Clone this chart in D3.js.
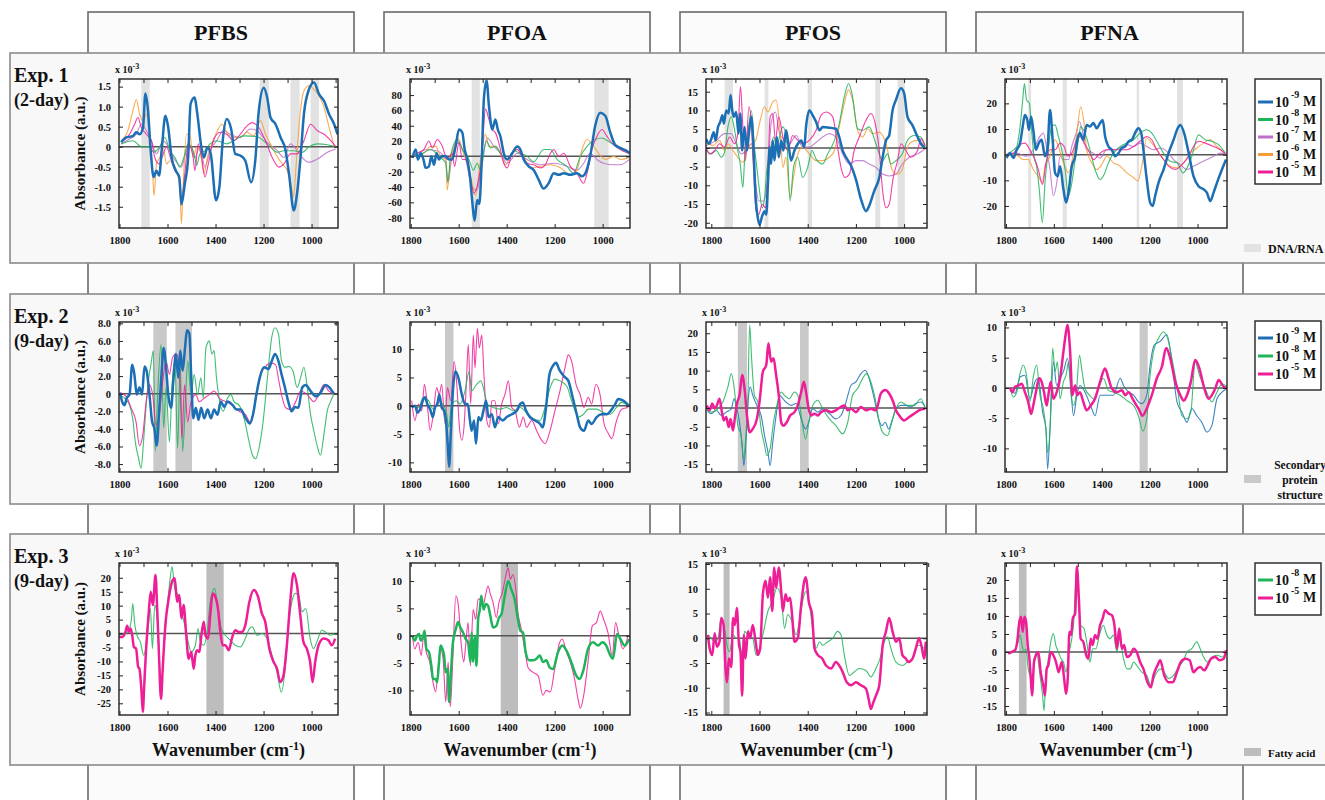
<!DOCTYPE html>
<html>
<head>
<meta charset="utf-8">
<script src="https://cdn.jsdelivr.net/npm/d3@7"></script>
<style>
body { margin: 0; background: #fff; }
text { font-family: "Liberation Serif", "Times New Roman", serif; font-weight: bold; fill: #111; }
</style>
</head>
<body>
<svg id="chart" width="1325" height="800"></svg>
<script>
// ---- names and ticks ----
var compounds = ["PFBS", "PFOA", "PFOS", "PFNA"];
var expNames = ["Exp. 1", "Exp. 2", "Exp. 3"];
var expDays = ["(2-day)", "(9-day)", "(9-day)"];
var concExp = {n9: "-9", n8: "-8", n7: "-7", n6: "-6", n5: "-5"};
var legendConcs = [["n9", "n8", "n7", "n6", "n5"], ["n9", "n8", "n5"], ["n8", "n5"]];
var bandNames = [["DNA/RNA"], ["Secondary", "protein", "structure"], ["Fatty acid"]];
var xTicks = [1800, 1600, 1400, 1200, 1000];
var xMinor = [1800, 1700, 1600, 1500, 1400, 1300, 1200, 1100, 1000, 900];
var xRanges = [[1802, 890], [1803, 886], [1822, 905], [1804, 877]];
var yRanges = [
  [[-2.03, 1.69], [-93.5, 101], [-21.4, 18.4], [-28.6, 29.5]],
  [[-8.9, 8.15], [-11.7, 14.8], [-17.1, 23], [-13.9, 10.9]],
  [[-29.2, 25.3], [-14.5, 13.3], [-15.5, 15.2], [-17.5, 24.7]]
];
var yTicks = [
  [[-1.5, -1, -0.5, 0, 0.5, 1, 1.5], [-80, -60, -40, -20, 0, 20, 40, 60, 80], [-20, -15, -10, -5, 0, 5, 10, 15], [-20, -10, 0, 10, 20]],
  [[-8, -6, -4, -2, 0, 2, 4, 6, 8], [-10, -5, 0, 5, 10], [-15, -10, -5, 0, 5, 10, 15, 20], [-10, -5, 0, 5, 10]],
  [[-25, -20, -15, -10, -5, 0, 5, 10, 15, 20], [-10, -5, 0, 5, 10], [-15, -10, -5, 0, 5, 10, 15], [-15, -10, -5, 0, 5, 10, 15, 20]]
];
var tickDecimals = [[1, 0, 0, 0], [1, 0, 0, 0], [0, 0, 0, 0]];

// shaded wavenumber regions [from, to]
var bands = [
  [[[1709, 1674], [1216, 1178], [1088, 1050], [1004, 969]], [[1546, 1512], [1035, 975]],
   [[1745, 1710], [1579, 1563], [1400, 1382], [1120, 1099], [1027, 997]],
   [[1707, 1695], [1563, 1546], [1254, 1244], [1086, 1061]]],
  [[[1659, 1603], [1567, 1498]], [[1657, 1622]], [[1690, 1652], [1432, 1396]], [[1242, 1208]]],
  [[[1438, 1366]], [[1425, 1353]], [[1749, 1724]], [[1746, 1714]]]
];

// ---- Exp. 1 spectra (x 10^-3) ----
var e1_pfbs_n9 = [[1793,0.11],[1772,0.23],[1744,0.27],[1730,0.36],[1716,0.31],[1702,0.48],[1692,1.33],[1681,0.89],[1671,-0.02],[1658,-0.76],[1646,-0.6],[1635,-0.72],[1623,0],[1609,0.77],[1597,0.48],[1583,-0.27],[1565,-0.6],[1551,-0.76],[1542,-1.44],[1528,-0.93],[1514,-0.27],[1504,1.06],[1488,1.23],[1474,0.73],[1461,0.07],[1448,-0.27],[1434,-0.02],[1420,-0.18],[1398,-1.34],[1384,-1.01],[1370,0.15],[1353,0.69],[1335,0.44],[1318,-0.18],[1297,-0.22],[1276,-0.35],[1252,-0.89],[1234,-0.31],[1220,0.89],[1199,1.47],[1185,1.23],[1171,0.73],[1150,0.56],[1129,0.23],[1108,-0.1],[1094,-0.68],[1074,-1.59],[1060,-1.14],[1046,-0.27],[1032,0.81],[1011,1.43],[990,1.6],[969,1.31],[948,1.14],[927,0.81],[906,0.56],[892,0.31]];
var e1_pfbs_n8 = [[1793,0.07],[1744,0.15],[1709,0],[1674,0],[1658,-0.14],[1632,0],[1611,0.23],[1590,-0.1],[1569,-0.27],[1549,-0.51],[1532,-0.27],[1514,0.07],[1486,-0.27],[1479,-0.47],[1465,-0.18],[1444,-0.1],[1423,0.07],[1395,0.15],[1353,0.07],[1325,0.15],[1283,0.27],[1227,0.25],[1185,0.07],[1143,-0.14],[1115,-0.1],[1074,-0.1],[1039,-0.14],[1011,0],[976,0.07],[934,0.05],[899,0]];
var e1_pfbs_n7 = [[1793,0.07],[1758,0.19],[1730,0.31],[1709,0.56],[1688,0.4],[1667,0.15],[1646,-0.18],[1618,0.15],[1597,0],[1576,-0.27],[1556,-0.43],[1542,-0.51],[1521,-0.1],[1500,0],[1486,-0.27],[1465,0],[1444,-0.51],[1423,-0.1],[1395,0.15],[1367,0.4],[1339,0.31],[1297,0.23],[1255,0.44],[1227,0.4],[1185,0.11],[1143,-0.1],[1115,-0.27],[1088,0.07],[1060,-0.1],[1039,-0.27],[1011,-0.39],[976,-0.31],[934,-0.14],[899,-0.06]];
var e1_pfbs_n6 = [[1793,0.15],[1765,0.4],[1744,0.9],[1730,1.18],[1716,0.81],[1702,0.65],[1688,0.81],[1674,0.31],[1663,-0.51],[1656,-1.22],[1646,-0.43],[1632,-0.27],[1618,-0.02],[1604,-0.43],[1590,-0.35],[1569,-0.51],[1549,-1.01],[1542,-1.92],[1535,-1.01],[1521,0.31],[1507,0.31],[1493,-0.27],[1479,-0.02],[1465,-0.1],[1448,-0.68],[1434,-0.27],[1416,0.07],[1395,0.36],[1374,0.56],[1353,0.36],[1325,0.23],[1297,0.23],[1269,0.36],[1241,0.27],[1213,0.65],[1192,0.31],[1171,0.07],[1150,-0.18],[1122,-0.43],[1101,-0.6],[1081,-1.09],[1076,-1.26],[1062,-0.27],[1048,0.81],[1032,1.39],[1011,1.52],[990,1.43],[969,1.27],[948,0.98],[927,0.48],[906,0]];
var e1_pfbs_n5 = [[1793,0.11],[1758,0.31],[1737,0.56],[1723,0.73],[1709,0.48],[1688,0.31],[1667,0.15],[1653,-0.27],[1635,-0.43],[1623,-0.27],[1604,0],[1588,-0.27],[1569,-0.6],[1551,-0.76],[1542,-1.34],[1528,-0.68],[1514,0.07],[1493,-0.27],[1486,-0.6],[1472,0.07],[1458,-0.27],[1444,-0.76],[1430,-0.43],[1409,0.15],[1381,0.36],[1353,0.31],[1325,0.15],[1297,0.31],[1269,0.52],[1248,0.6],[1220,0.48],[1192,0.15],[1164,-0.27],[1136,-0.51],[1115,-0.43],[1088,-0.18],[1060,-0.18],[1032,0.15],[1004,0.56],[976,0.4],[948,0.31],[920,0.15],[899,0]];

var e1_pfoa_n9 = [[1793,-2],[1779,9],[1770,-4],[1758,4],[1747,-4],[1738,-15],[1724,-13],[1714,0],[1703,-11],[1692,4],[1682,-4],[1672,0],[1654,0],[1641,-4],[1627,-4],[1613,13],[1599,35],[1585,31],[1575,9],[1564,-4],[1553,-26],[1544,-57],[1534,-84],[1523,-57],[1514,-62],[1505,-13],[1495,75],[1484,99],[1474,66],[1460,35],[1447,48],[1437,35],[1426,26],[1412,4],[1398,-4],[1377,4],[1356,13],[1343,9],[1329,-4],[1308,-13],[1287,-18],[1266,-31],[1246,-42],[1225,-35],[1204,-22],[1183,-24],[1162,-22],[1135,-24],[1107,-22],[1086,-26],[1072,-22],[1052,0],[1031,40],[1010,57],[989,53],[968,31],[948,15],[927,11],[899,7],[888,4]];
var e1_pfoa_n8 = [[1793,0],[1751,4],[1717,9],[1682,0],[1654,-9],[1645,-33],[1634,0],[1606,22],[1585,9],[1557,-4],[1539,-18],[1523,-9],[1509,-18],[1484,20],[1467,11],[1447,13],[1426,4],[1398,-4],[1370,7],[1343,4],[1315,0],[1287,-7],[1246,9],[1218,9],[1190,-4],[1149,-13],[1121,-22],[1093,0],[1065,13],[1031,22],[1003,24],[968,18],[941,13],[913,7],[888,4]];
var e1_pfoa_n7 = [[1793,0],[1731,9],[1689,7],[1654,-4],[1645,-35],[1627,2],[1599,18],[1571,-4],[1544,-40],[1523,-44],[1502,-4],[1481,24],[1453,13],[1426,4],[1398,-9],[1356,4],[1315,-4],[1259,-11],[1204,-9],[1149,-13],[1107,-18],[1079,-9],[1052,4],[1024,-4],[996,-9],[954,-11],[927,-11],[888,-4]];
var e1_pfoa_n6 = [[1793,0],[1745,4],[1717,13],[1696,13],[1675,0],[1654,-4],[1648,-44],[1634,-4],[1620,13],[1603,24],[1585,9],[1564,-9],[1544,-35],[1530,-51],[1509,-4],[1488,29],[1474,13],[1447,13],[1426,4],[1405,-11],[1377,4],[1356,9],[1329,0],[1301,-15],[1259,-13],[1218,-11],[1176,-15],[1135,-24],[1107,-18],[1086,9],[1065,22],[1038,13],[1017,4],[989,-4],[954,0],[927,-4],[892,-2]];
var e1_pfoa_n5 = [[1793,0],[1772,4],[1745,9],[1724,20],[1710,11],[1689,22],[1668,13],[1648,-4],[1627,4],[1617,-13],[1599,18],[1585,-4],[1571,-4],[1557,-18],[1537,-48],[1520,-35],[1505,-4],[1488,62],[1474,48],[1460,35],[1447,31],[1433,18],[1412,-9],[1398,-15],[1377,4],[1356,9],[1336,0],[1315,-9],[1287,-11],[1259,-15],[1239,-11],[1218,4],[1204,9],[1183,0],[1162,4],[1135,-13],[1107,-22],[1079,-35],[1065,-22],[1045,9],[1024,26],[1003,35],[982,26],[954,15],[927,9],[892,4]];

var e1_pfos_n9 = [[1821,2.4],[1810,1.1],[1800,2.4],[1790,4.2],[1782,2],[1772,5.6],[1763,6.9],[1754,8.7],[1748,6.5],[1738,10],[1728,9.2],[1720,14.1],[1713,10],[1706,8.3],[1697,9.6],[1687,3.8],[1680,9.2],[1672,-0.7],[1662,5.6],[1652,-0.7],[1644,3.8],[1634,8.3],[1625,0.2],[1616,-13.3],[1607,-18.7],[1600,-20.5],[1589,-18.2],[1579,-16.9],[1572,-17.8],[1565,-9.7],[1558,0.2],[1552,-4.3],[1545,2],[1538,-3.4],[1528,2.9],[1520,-2.5],[1510,2],[1501,-0.7],[1490,4.7],[1480,1.1],[1469,-3.4],[1455,-0.7],[1441,1.1],[1427,2],[1414,0.2],[1407,5.6],[1393,10],[1379,8.7],[1365,6.9],[1351,4.7],[1338,5.6],[1310,5.4],[1283,5.1],[1269,2.9],[1255,-0.7],[1241,-2.5],[1220,-4.8],[1200,-8.4],[1179,-13.7],[1158,-16.9],[1145,-15.5],[1124,-11.5],[1103,-7.9],[1089,-2.5],[1075,2],[1062,3.3],[1048,10],[1034,12.8],[1013,15.9],[1000,14.6],[986,8.3],[965,6],[944,2.9],[924,0.6],[913,0.2]];
var e1_pfos_n8 = [[1821,-0.7],[1800,-1.6],[1779,-0.7],[1759,-2.5],[1745,-1.2],[1731,5.6],[1717,8.3],[1703,4.7],[1690,-0.7],[1680,-4.3],[1669,-10.6],[1662,-3.4],[1648,3.8],[1634,10],[1621,0.2],[1611,-5.2],[1600,-11.5],[1589,-16],[1579,-13.3],[1570,-6.1],[1558,-1.6],[1542,2.9],[1528,0.2],[1517,2.9],[1503,5.6],[1487,2],[1473,-14.2],[1459,-5.2],[1441,-2.5],[1421,-7.9],[1400,-5.2],[1382,-0.7],[1365,-3],[1338,-4.3],[1317,-1.6],[1289,2],[1269,6.5],[1248,13.7],[1230,17.2],[1214,13.7],[1193,5.1],[1172,4.7],[1145,5.6],[1117,1.1],[1089,-3.4],[1069,-1.6],[1055,-4.3],[1034,-3.4],[1007,-1.6],[986,2],[958,3.3],[931,2.9],[913,0.6]];
var e1_pfos_n7 = [[1821,0.6],[1779,2],[1745,3.8],[1717,3.8],[1697,1.1],[1676,-1.6],[1655,-0.7],[1634,1.1],[1616,-9.7],[1603,-14.2],[1583,-14.2],[1565,-7],[1552,6.5],[1534,9.6],[1517,3.8],[1496,2],[1476,1.1],[1448,3.3],[1421,0.2],[1393,0.2],[1365,1.5],[1338,2.9],[1310,3.8],[1283,2.9],[1255,-1.6],[1227,-4.3],[1200,-3.4],[1172,-3.4],[1145,-4.3],[1117,-5.2],[1089,-7],[1062,-7.5],[1034,-7],[1007,-4.3],[979,-2.5],[944,-1.6],[913,-0.3]];
var e1_pfos_n6 = [[1821,2],[1793,0.6],[1766,2],[1745,-0.7],[1731,1.1],[1710,-0.7],[1690,-2.5],[1669,-3.9],[1652,-0.7],[1634,1.1],[1616,2],[1600,6.5],[1579,11],[1565,9.6],[1545,12.3],[1531,12.8],[1514,3.8],[1503,-5.2],[1490,-2.5],[1473,-13.3],[1459,-7.9],[1441,-1.6],[1421,0.2],[1393,-1.6],[1365,-3.4],[1338,-3.4],[1310,-2.5],[1289,-0.7],[1269,5.6],[1248,11.9],[1231,15.5],[1214,12.8],[1193,4.7],[1172,2.9],[1151,5.1],[1131,3.8],[1103,4.2],[1075,1.1],[1048,-6.1],[1027,-7],[1007,-5.7],[990,-0.7],[972,1.5],[944,2],[913,0.2]];
var e1_pfos_n5 = [[1821,0.2],[1807,-1.6],[1786,-0.7],[1766,1.1],[1745,0.2],[1724,2.9],[1703,1.1],[1690,3.8],[1679,16.4],[1669,5.6],[1658,-3.4],[1644,11],[1634,6.5],[1625,-5.2],[1614,-16.9],[1603,-17.8],[1589,-15.1],[1575,-16],[1565,-6.1],[1556,8.3],[1545,9.2],[1534,2],[1520,8.3],[1503,2.9],[1483,-0.7],[1462,3.3],[1441,2],[1421,1.1],[1393,2],[1365,4.7],[1345,8.7],[1324,9.6],[1296,8.3],[1276,0.2],[1262,-5.2],[1245,-7.9],[1227,-7],[1207,-0.7],[1186,2.9],[1158,7.4],[1138,9.2],[1117,5.6],[1103,-0.7],[1089,-11.5],[1075,-16],[1062,-15.1],[1045,-7.9],[1027,-3.4],[1013,1.1],[993,-0.7],[972,-2.5],[944,-0.7],[931,2.4],[913,0.6]];

var e1_pfna_n9 = [[1797,-1.3],[1783,0.6],[1769,-1.3],[1755,1.9],[1741,4.5],[1730,11],[1721,15.5],[1711,13.5],[1704,9.7],[1695,14.8],[1686,9.7],[1675,1.9],[1663,4.5],[1651,5.8],[1637,-0.6],[1627,1.9],[1616,17.4],[1605,5.8],[1595,-7.1],[1584,-8.4],[1574,-4.5],[1560,-13.5],[1549,-18.7],[1539,-14.8],[1525,-4.5],[1511,-0.6],[1502,5.8],[1491,8.4],[1477,5.8],[1463,11.6],[1449,11],[1435,12.3],[1421,10.3],[1407,12.3],[1396,13.5],[1386,7.1],[1372,3.2],[1358,1.9],[1344,-0.6],[1330,0.6],[1316,2.6],[1302,3.2],[1288,5.2],[1274,5.8],[1261,8.4],[1247,10.3],[1235,8.4],[1226,1.9],[1212,-9.7],[1198,-18.7],[1187,-20],[1177,-16.1],[1163,-11],[1142,-5.8],[1121,0.6],[1100,5.8],[1083,10.3],[1072,11.6],[1056,8.4],[1037,0.6],[1017,-8.4],[996,-12.3],[975,-13.5],[961,-14.8],[947,-18.1],[933,-14.8],[919,-11],[898,-5.8],[881,-1.9]];
var e1_pfna_n8 = [[1797,0],[1776,1.3],[1755,3.2],[1741,11],[1730,21.3],[1723,27.7],[1714,21.3],[1702,20],[1693,9.7],[1683,-0.6],[1672,-4.5],[1661,-13.5],[1648,-26.5],[1637,-11],[1623,1.9],[1609,11],[1595,11.6],[1581,7.1],[1567,1.9],[1553,-5.8],[1539,-16.1],[1525,-11],[1511,-1.9],[1497,5.8],[1488,11],[1470,8.4],[1449,1.9],[1428,-5.8],[1407,-9.7],[1390,-7.7],[1372,-3.2],[1351,0.6],[1323,3.2],[1295,4.5],[1267,5.8],[1240,8.4],[1212,9.7],[1191,8.4],[1170,5.2],[1142,0.6],[1114,-2.6],[1086,-3.2],[1061,-7.1],[1044,-5.2],[1024,-0.6],[996,7.7],[968,5.8],[940,5.2],[912,3.9],[884,0.6]];
var e1_pfna_n7 = [[1797,0],[1755,0.6],[1714,-0.6],[1686,1.9],[1658,7.1],[1644,8.4],[1627,0.6],[1616,-5.8],[1602,-16.1],[1588,-11],[1574,-0.6],[1560,-1.9],[1539,-1.9],[1525,3.2],[1507,8.4],[1493,12.9],[1479,8.4],[1463,1.9],[1435,0.6],[1407,-1.3],[1379,1.9],[1351,1.9],[1323,2.6],[1295,3.9],[1267,3.2],[1240,4.5],[1212,3.2],[1184,1.9],[1156,2.6],[1128,1.3],[1100,-1.9],[1072,-3.9],[1044,-5.8],[1017,-4.5],[989,-3.2],[961,-1.9],[933,-0.6],[905,0.6],[884,0.4]];
var e1_pfna_n6 = [[1797,0],[1769,0],[1748,-0.6],[1728,-1.9],[1707,-1.9],[1686,-5.8],[1665,-8.4],[1648,-11],[1637,-4.5],[1616,-0.6],[1595,5.8],[1581,3.2],[1560,-3.2],[1539,-7.1],[1518,0.6],[1504,8.4],[1488,18.7],[1474,12.3],[1463,1.9],[1442,-3.2],[1421,-5.8],[1400,-3.9],[1379,-0.6],[1351,-3.2],[1323,-4.5],[1295,-7.1],[1267,-9],[1249,-10.3],[1233,-4.5],[1212,6.5],[1191,4.5],[1170,1.9],[1142,-1.9],[1114,-4.5],[1086,-5.2],[1058,-3.2],[1031,0.6],[1003,2.6],[975,4.5],[947,5.8],[919,3.2],[884,0.6]];
var e1_pfna_n5 = [[1797,0],[1769,0.6],[1741,3.9],[1721,4.5],[1700,1.9],[1679,-1.9],[1665,-5.8],[1647,-11.6],[1633,-3.2],[1616,1.9],[1595,1.9],[1574,4.5],[1557,3.2],[1543,-0.6],[1525,0.6],[1504,5.8],[1491,7.1],[1474,4.5],[1456,1.9],[1435,-1.9],[1407,0.6],[1379,1.9],[1351,1.9],[1323,1.9],[1295,1.9],[1267,3.2],[1233,5.8],[1212,7.1],[1191,5.8],[1170,1.9],[1142,-1.9],[1121,-4.5],[1093,-5.8],[1065,-3.9],[1037,-0.6],[1017,3.2],[996,5.2],[968,4.5],[933,3.2],[905,1.9],[884,0.4]];

// ---- Exp. 2 spectra ----
var e2_pfbs_n9 = [[1797,0.1],[1789,-0.9],[1779,-1.3],[1770,-0.5],[1758,-0.1],[1747,3.3],[1738,2.2],[1728,-0.1],[1717,0.7],[1706,-0.1],[1696,3.1],[1687,2.6],[1675,-0.1],[1664,-3.2],[1655,-3.9],[1645,-5.9],[1634,-1.6],[1624,2.6],[1616,5.2],[1606,3],[1597,-0.1],[1585,-1.6],[1576,1.4],[1565,4.5],[1555,1.8],[1547,4.9],[1537,2.6],[1527,5.2],[1519,7.2],[1509,6.8],[1501,1.8],[1493,-2.8],[1482,-1.6],[1471,-3],[1460,-1.6],[1447,-2.8],[1433,-1.8],[1419,-2.8],[1406,-1.8],[1392,-2.4],[1378,-0.9],[1364,-1.5],[1350,-0.9],[1329,-1.3],[1313,-1.8],[1295,-1.8],[1274,-2.8],[1257,-3.4],[1244,-2.4],[1230,-0.1],[1216,1.8],[1198,3],[1180,2.8],[1166,3.7],[1152,4.5],[1138,3.7],[1125,2.2],[1111,0.7],[1097,-0.9],[1083,-2],[1069,-1.5],[1055,-1.6],[1039,0.7],[1025,1],[1004,0.3],[983,-0.3],[963,0.1],[942,1],[925,0.7],[907,0]];
var e2_pfbs_n8 = [[1797,-0.1],[1779,-0.5],[1758,-1.3],[1745,-2.8],[1734,-5.5],[1720,-7.4],[1710,-8.5],[1700,-5.5],[1689,-1.3],[1678,1.8],[1669,3.3],[1659,4.9],[1651,-6.5],[1641,-0.1],[1627,5.6],[1616,-3.9],[1606,0.7],[1592,-5.5],[1581,1],[1569,3.7],[1558,-6.2],[1547,3.3],[1537,-6.6],[1526,-1.3],[1516,3.7],[1502,-0.1],[1489,2.2],[1475,-0.1],[1461,1.8],[1451,-0.5],[1440,5.2],[1426,6],[1415,4.5],[1406,4.9],[1396,1.8],[1385,-0.5],[1368,-2],[1350,-0.5],[1336,-0.1],[1323,-0.9],[1302,-1.3],[1281,-2.8],[1263,-5.1],[1246,-7],[1233,-7.4],[1219,-6.2],[1202,-3.2],[1184,1.8],[1166,6.4],[1152,7.5],[1138,6.8],[1125,3.7],[1111,3],[1094,3.1],[1078,2.6],[1060,0.7],[1046,1.8],[1032,3],[1018,0.7],[1004,-2.4],[990,-4.3],[977,-5.9],[963,-7],[949,-4.7],[935,-2],[921,-0.9],[907,0]];
var e2_pfbs_n5 = [[1797,0.1],[1772,-0.3],[1752,-1.6],[1731,-3.2],[1717,-5.9],[1703,-4.7],[1689,-0.9],[1675,1],[1662,-0.1],[1648,-3.6],[1634,-2.4],[1620,1.4],[1606,3.7],[1592,2.2],[1579,4.1],[1565,4.5],[1551,3.7],[1540,-5.1],[1529,1],[1516,-3.2],[1502,-0.9],[1482,-0.1],[1468,-0.9],[1447,-0.5],[1426,-0.1],[1406,0.3],[1385,-0.5],[1357,-0.9],[1329,-1.3],[1302,-2],[1274,-2.4],[1257,-3.2],[1239,-1.6],[1226,0.3],[1212,2.2],[1191,3.1],[1170,3.5],[1150,3.3],[1136,1.4],[1122,-0.5],[1108,-1.6],[1087,-1.8],[1066,-0.9],[1046,0.3],[1018,-0.1],[990,-0.9],[970,-0.1],[949,1],[928,0.3],[907,0]];

var e2_pfoa_n9 = [[1796,-0.3],[1782,0],[1772,-1.2],[1761,-0.6],[1750,0.9],[1740,1.5],[1731,0.3],[1719,-0.6],[1708,-2],[1699,-0.3],[1689,0.3],[1681,2],[1671,-0.3],[1661,-0.9],[1653,-2.6],[1646,-6.7],[1640,-10.8],[1633,-4.9],[1625,2],[1614,6.1],[1601,4.9],[1587,2],[1574,0.3],[1562,0.3],[1553,-2.6],[1546,-4.4],[1536,-2.6],[1528,-6.7],[1518,-2],[1508,-2.6],[1497,-0.9],[1486,0.9],[1476,-2],[1462,-1.5],[1449,-3.8],[1435,-2],[1417,-2.6],[1400,-2],[1379,-1.5],[1358,-0.9],[1344,0.3],[1333,0.6],[1319,-0.9],[1303,-2],[1282,-2.6],[1261,-3.2],[1250,-3.8],[1236,-0.3],[1222,5.5],[1208,7],[1194,7.6],[1181,6.4],[1161,5.2],[1143,4.4],[1125,1.5],[1108,-1.5],[1094,-3.8],[1078,-4.4],[1060,-2.6],[1046,-3.2],[1025,-2],[1004,-1.5],[983,-1.5],[967,-0.9],[948,0.3],[935,1.2],[914,0.9],[897,0.3],[889,0]];
var e2_pfoa_n8 = [[1796,0],[1768,-0.3],[1747,1.5],[1726,0.9],[1706,-0.6],[1685,0.9],[1667,0.3],[1650,-1.5],[1642,-3.8],[1629,0.3],[1611,0.9],[1594,0.3],[1574,2.6],[1556,6.1],[1546,2.6],[1525,3.8],[1508,4.4],[1494,2.6],[1481,0.3],[1456,-0.3],[1428,-0.6],[1400,-0.3],[1372,-0.9],[1344,-0.3],[1317,-1.2],[1289,-2.3],[1261,-2.6],[1240,-0.3],[1219,3.2],[1199,4.7],[1178,4.4],[1150,3.5],[1125,0.3],[1101,-2],[1080,-1.5],[1060,-0.6],[1025,-0.6],[997,-1.2],[969,-1.5],[942,-0.3],[921,0.6],[893,0]];
var e2_pfoa_n5 = [[1796,0.9],[1782,-2.6],[1768,0.3],[1754,-0.9],[1743,3.8],[1731,0.3],[1719,-4.4],[1706,-1.5],[1692,3.2],[1681,2],[1671,3.8],[1657,-3.2],[1647,3.2],[1633,0.9],[1619,7.8],[1608,3.8],[1597,-3.8],[1587,-6.1],[1578,-3.8],[1569,3.2],[1560,10.8],[1550,0.3],[1539,12.5],[1532,6.7],[1522,13.7],[1514,10.2],[1504,12.5],[1494,4.9],[1483,-2.6],[1472,-3.8],[1462,0.9],[1449,0.9],[1435,-3.2],[1421,0.3],[1407,2],[1393,4.4],[1379,-0.3],[1365,-0.9],[1347,-3.8],[1331,-2],[1317,-3.8],[1296,-2.6],[1275,-4.4],[1254,-6.1],[1240,-6.7],[1219,-4.4],[1199,-0.9],[1178,2.6],[1157,6.7],[1143,9],[1129,7.8],[1111,3.8],[1094,2],[1078,-0.3],[1060,1.5],[1046,0.3],[1028,3.8],[1011,2],[994,-3.2],[976,-4.9],[962,-5.8],[942,-2.6],[921,-0.6],[893,-0.3]];

var e2_pfos_n9 = [[1818,-0.6],[1800,-1.5],[1779,-0.6],[1759,-2],[1738,-1.1],[1717,-0.2],[1706,2.5],[1697,0.7],[1683,-3.8],[1672,-10],[1665,-15.4],[1655,-7.4],[1645,3.4],[1639,5.7],[1628,3.4],[1611,0.7],[1593,-2],[1579,-7.4],[1565,-11.8],[1556,-15.4],[1545,-9.1],[1531,-2],[1517,3.4],[1503,2.5],[1490,1.6],[1469,0.7],[1448,1.2],[1427,-2.9],[1409,-5.6],[1396,-3.8],[1379,-0.2],[1358,-1.1],[1338,-0.2],[1310,-1.5],[1283,-2.9],[1262,-2],[1241,1.6],[1220,6.1],[1200,7],[1179,9.2],[1161,10.1],[1145,7.9],[1124,2.5],[1106,-2.9],[1092,-4.7],[1078,-3.8],[1064,-5.6],[1048,-2.9],[1034,-0.2],[1013,0.7],[993,0.7],[972,0.3],[951,1.2],[931,1.6],[913,0.3]];
var e2_pfos_n8 = [[1818,-0.2],[1800,-1.1],[1779,-0.6],[1752,1.6],[1731,5.7],[1717,9.2],[1703,4.3],[1690,-4.7],[1676,-7.4],[1666,-13.6],[1655,-5.6],[1648,3.4],[1641,22.2],[1632,12.4],[1621,3.4],[1607,1.6],[1593,-5.6],[1579,-10],[1570,-12.7],[1556,-10.9],[1542,-3.8],[1528,0.7],[1510,4.3],[1496,3.4],[1476,2.5],[1455,4.3],[1441,3.4],[1427,-2],[1409,-8.3],[1393,-2.9],[1379,0.7],[1358,2.1],[1338,-0.2],[1310,-2.9],[1283,-4.7],[1255,-6.9],[1234,-3.8],[1214,3.4],[1193,5.2],[1172,7.9],[1156,9.2],[1138,7],[1120,2.5],[1103,-3.8],[1089,-6.5],[1069,-7.4],[1051,-3.8],[1034,-0.2],[1013,1.6],[986,0.7],[958,0.7],[931,2.5],[913,0]];
var e2_pfos_n5 = [[1818,0.7],[1807,-0.6],[1796,1.2],[1786,-0.2],[1777,0.7],[1766,2.5],[1756,-1.1],[1748,-3.3],[1738,-2.4],[1728,-5.1],[1720,-2.9],[1710,-6],[1701,-2],[1692,1.6],[1683,3.4],[1672,8.8],[1662,5.2],[1652,-2],[1641,-6.5],[1628,-5.6],[1611,-2.9],[1600,1.6],[1586,9.7],[1572,11.5],[1563,17.3],[1552,12.4],[1542,13.3],[1531,8.8],[1520,3.4],[1510,-3.8],[1501,-4.7],[1487,-3.8],[1473,-2],[1455,-1.1],[1441,0.7],[1427,4.3],[1416,7],[1407,4.3],[1396,-0.2],[1386,-2],[1372,-1.5],[1358,-2],[1345,-1.1],[1324,-0.6],[1303,-1.1],[1283,-0.6],[1262,0.3],[1248,0.7],[1234,-0.6],[1220,-0.2],[1200,-1.1],[1179,0.3],[1158,-0.6],[1138,-0.2],[1117,-0.6],[1096,3.9],[1078,4.8],[1062,3.9],[1045,1.6],[1034,-0.6],[1020,-2],[1000,-3.3],[979,-2.4],[958,-1.5],[938,-0.6],[913,-0.2]];

var e2_pfna_n9 = [[1783,0],[1762,-0.9],[1741,1.8],[1721,2.1],[1700,-1.8],[1679,1],[1665,1.6],[1647,-4],[1633,-6.8],[1626,-13.4],[1616,-6.8],[1602,4.3],[1588,0.4],[1574,1.6],[1560,2.7],[1543,4.9],[1532,1.6],[1518,-4.6],[1504,-1.2],[1491,0.4],[1470,-0.7],[1442,-3.4],[1428,-4.6],[1407,-1.2],[1379,-1.2],[1351,-1.2],[1323,1.6],[1309,0.4],[1288,-0.7],[1267,-1.2],[1247,-2.3],[1233,-2.6],[1212,-1.2],[1198,3.8],[1181,7.1],[1156,7.7],[1128,8.8],[1107,4.3],[1086,-2.3],[1065,-4],[1044,-5.7],[1024,-3.4],[1003,-4.6],[982,-5.7],[961,-7.3],[940,-6.2],[919,-1.8],[898,-0.7],[877,-0.1]];
var e2_pfna_n8 = [[1783,0],[1769,-1.5],[1755,-0.7],[1741,2.4],[1728,3.8],[1714,2.1],[1700,-2.3],[1686,1.8],[1672,3.8],[1658,-1.2],[1644,-3.4],[1633,-6.8],[1626,-10.7],[1616,-6.8],[1605,6.6],[1595,2.7],[1585,4.3],[1574,-1.8],[1560,1],[1549,2.1],[1539,4.3],[1528,-1.2],[1518,-2.9],[1507,-1.2],[1493,5.4],[1484,3.2],[1470,-0.1],[1451,-1.2],[1435,-1.8],[1414,-0.1],[1393,1.6],[1372,-0.4],[1351,-0.7],[1323,-1.2],[1295,-2.1],[1267,-2.9],[1247,-4.6],[1228,-7.1],[1212,-5.1],[1198,2.1],[1184,6],[1163,8.2],[1142,9.3],[1125,8.2],[1107,4.9],[1086,0.4],[1065,-4.6],[1044,-5.1],[1028,-4],[1010,4.3],[992,2.1],[968,-0.1],[940,-2.3],[919,-0.7],[898,0.7],[877,0.2]];
var e2_pfna_n5 = [[1783,0],[1772,-0.7],[1762,0.2],[1748,0.4],[1734,0.7],[1721,-0.7],[1707,-2.3],[1695,-4.3],[1686,-2.9],[1675,-0.7],[1661,1.6],[1651,1],[1641,-0.7],[1630,-2.9],[1623,-1.2],[1613,1],[1602,-1.8],[1588,-0.7],[1574,1.6],[1560,6],[1549,9.3],[1543,10.4],[1532,6],[1523,-1.2],[1511,0.4],[1502,-1.2],[1491,-0.7],[1477,-2.3],[1463,-3.7],[1446,-2.9],[1428,-1.8],[1407,1],[1386,3.2],[1372,1.6],[1358,-0.1],[1337,-0.7],[1316,-0.4],[1302,-1.2],[1288,-0.7],[1267,-2.1],[1247,-3.4],[1230,-4.6],[1212,-3.4],[1191,-1.2],[1170,1.6],[1149,3.5],[1131,6.6],[1114,4.9],[1093,1],[1072,-1.2],[1058,-2.1],[1044,-1.2],[1028,1],[1010,4.6],[992,3.2],[975,0.4],[954,-1.8],[940,-1.2],[926,-0.1],[912,1.3],[891,0.2],[877,0]];

// ---- Exp. 3 spectra ----
var e3_pfbs_n8 = [[1810,-0.6],[1775,0],[1761,1.2],[1750,5.4],[1745,10.8],[1736,3],[1727,-0.6],[1713,-3],[1699,-7.8],[1689,-4.2],[1681,1.8],[1671,9],[1663,-5.4],[1653,10.2],[1643,5.4],[1636,-4.2],[1627,-21],[1616,-6.6],[1602,9],[1592,17.4],[1581,24],[1570,16.2],[1556,13.8],[1542,7.8],[1528,3],[1514,-3],[1501,-6.6],[1484,-4.2],[1473,1.8],[1463,-3],[1449,-4.2],[1435,0.6],[1422,11.4],[1404,16.2],[1390,9],[1376,1.8],[1359,-0.6],[1338,-2.4],[1318,-4.2],[1297,-4.8],[1276,-1.8],[1259,1.8],[1246,2.4],[1228,-0.6],[1207,0],[1186,-1.8],[1165,-7.8],[1144,-13.8],[1126,-21],[1110,-12.6],[1096,3],[1082,11.4],[1068,14.4],[1054,13.8],[1040,7.8],[1024,9],[1006,-1.8],[992,-5.4],[978,-3],[957,1.2],[943,0.6],[923,-0.6],[902,0]];
var e3_pfbs_n5 = [[1810,-1.2],[1789,-1.2],[1775,0.6],[1768,2.8],[1761,0.6],[1754,1.8],[1747,-0.6],[1740,-4.8],[1731,-5.4],[1722,-12],[1717,-12.6],[1709,-19.8],[1703,-28.1],[1697,-18.6],[1689,-5.4],[1678,7.8],[1670,15],[1661,10.2],[1650,21],[1643,9],[1636,-6.6],[1627,-23.4],[1620,-12.6],[1609,3],[1595,12.6],[1581,18.6],[1570,19.8],[1560,11.4],[1551,13.8],[1542,5.4],[1533,10.2],[1523,0.6],[1512,-9],[1501,-6.6],[1491,-12.6],[1484,-7.8],[1477,-6],[1467,-6.6],[1459,-0.6],[1449,4.2],[1442,-0.6],[1431,-1.8],[1422,6.6],[1412,14.4],[1401,13.2],[1390,9],[1380,0.6],[1370,-4.2],[1359,-4.2],[1345,-6],[1332,-1.8],[1318,1.2],[1304,0.6],[1290,0.6],[1276,3],[1259,11.4],[1241,15.6],[1223,13.2],[1207,7.2],[1193,4.2],[1176,-5.4],[1158,-10.2],[1144,-12.6],[1131,-17.4],[1117,-15],[1103,-4.2],[1089,11.4],[1075,21.6],[1061,17.4],[1047,6.6],[1034,-3],[1020,-5.4],[1006,-10.2],[996,-17.4],[985,-10.2],[971,-4.2],[950,-1.8],[930,-2.4],[916,-4.2],[902,-1.8]];

var e3_pfoa_n8 = [[1793,0],[1783,-0.9],[1774,0],[1765,0.3],[1758,-0.9],[1749,-0.3],[1742,0.9],[1735,-2.4],[1724,-3],[1714,-5.5],[1707,-7.9],[1696,-7.9],[1690,-8.5],[1682,-4.8],[1676,-1.8],[1668,-2.4],[1661,-3.6],[1654,-6.7],[1647,-6.1],[1640,-12.1],[1633,-7.3],[1624,-1.2],[1612,1.2],[1603,2.5],[1593,1.5],[1582,0.6],[1571,-0.6],[1561,-1.2],[1551,-4.8],[1546,0.6],[1540,-4.8],[1533,0],[1526,-5.5],[1519,3],[1512,4.8],[1506,7.3],[1496,4.8],[1487,5.8],[1478,5.5],[1468,3.6],[1457,1.5],[1443,1.8],[1432,3.3],[1422,3.9],[1408,7.3],[1394,10],[1381,8.5],[1367,6.7],[1353,3],[1343,0.9],[1332,0.6],[1321,-3],[1307,-4.5],[1290,-4.5],[1276,-4.2],[1262,-3.6],[1249,-4.8],[1235,-4.5],[1221,-5.8],[1207,-6.1],[1186,-3],[1168,-1.8],[1151,-2.7],[1131,-4.8],[1110,-7.3],[1096,-7.9],[1079,-6.1],[1061,-2.4],[1040,-1.2],[1019,-1.8],[1001,-1.2],[985,-1.8],[968,-3.6],[957,-4.2],[940,0.3],[926,-0.6],[908,-1.8],[890,-0.6]];
var e3_pfoa_n5 = [[1793,0],[1783,-2.4],[1769,-1.2],[1756,-3.6],[1746,0],[1735,-3],[1721,-4.8],[1707,-8.5],[1696,-10.3],[1686,-6.1],[1676,-2.4],[1665,-4.2],[1654,-12.1],[1644,-4.8],[1635,-13],[1624,-3.6],[1612,7.3],[1603,6.1],[1589,-1.8],[1579,-4.8],[1571,-1.8],[1561,2.4],[1551,-5.5],[1540,4.8],[1529,3],[1519,6.7],[1510,6.7],[1499,5.5],[1487,7.6],[1478,9.1],[1468,7.6],[1457,6.1],[1443,3.3],[1432,6.1],[1418,7.9],[1404,10.9],[1394,12.4],[1385,10.3],[1374,11.2],[1362,8.5],[1353,4.2],[1339,1.2],[1325,-2.4],[1311,-5.8],[1290,-6.7],[1269,-7.3],[1249,-10.9],[1235,-10],[1218,-10.3],[1200,-6.1],[1179,-1.2],[1168,-0.6],[1151,-3],[1135,-4.8],[1117,-7.9],[1103,-11.5],[1093,-13.3],[1079,-10.9],[1061,-4.8],[1043,1.8],[1026,2.4],[1010,4.5],[996,3],[978,0.6],[960,-3.6],[946,2.4],[932,0],[915,-2.4],[894,0]];

var e3_pfos_n8 = [[1814,0.7],[1800,0],[1786,-0.7],[1772,0],[1759,4.1],[1741,0.7],[1735,-1.4],[1724,-2.7],[1710,0.7],[1697,0],[1683,0],[1672,-4.8],[1662,1.4],[1648,0.7],[1628,0],[1614,-3.4],[1600,-2],[1583,1.4],[1565,5.5],[1545,7.5],[1528,10.2],[1510,8.2],[1496,2],[1483,4.8],[1465,3.4],[1448,0.7],[1432,4.1],[1418,8.2],[1407,9.5],[1393,6.8],[1376,0.7],[1365,-2],[1351,-0.7],[1338,-1.4],[1317,-0.7],[1296,0],[1276,1.4],[1262,0.7],[1248,-3.4],[1227,-7.5],[1207,-6.8],[1186,-6.1],[1158,-6.5],[1138,-7.8],[1117,-6.1],[1100,-4.1],[1082,-0.7],[1069,0.3],[1055,-2],[1034,-4.8],[1007,-5.5],[986,-4.8],[965,-4.1],[949,-1.7],[935,-1.4],[917,-2],[910,-0.7]];
var e3_pfos_n5 = [[1814,0.7],[1807,-2],[1796,-3.4],[1786,1],[1777,-1.7],[1766,-0.7],[1759,4.1],[1749,2.7],[1741,-6.1],[1735,-8.9],[1727,-4.1],[1717,-5.8],[1710,4.1],[1702,2.7],[1694,6.1],[1685,-1.4],[1679,-2.7],[1672,-11.6],[1665,0.7],[1658,-4.1],[1648,1.4],[1639,0],[1628,2.7],[1616,-0.7],[1607,-3.4],[1597,-2],[1586,8.9],[1575,11.6],[1565,8.2],[1556,12.3],[1547,5.5],[1539,14.3],[1531,10.2],[1520,14.3],[1510,9.5],[1503,5.5],[1492,8.9],[1483,7.5],[1473,8.2],[1465,4.8],[1455,-0.7],[1441,0],[1427,6.8],[1414,11.6],[1407,12.3],[1396,7.5],[1382,4.8],[1372,-2],[1358,-3.4],[1340,-4.1],[1324,-5.5],[1303,-6.1],[1283,-4.8],[1269,-5.5],[1255,-6.8],[1238,-8.9],[1220,-9.5],[1200,-8.9],[1179,-9.5],[1158,-10.2],[1147,-12.3],[1138,-14.3],[1128,-13],[1117,-11.6],[1103,-9.5],[1089,-1.4],[1075,1.4],[1062,4.1],[1048,1.4],[1034,-0.7],[1020,0],[1007,-3.4],[993,-4.1],[982,-4.8],[965,-4.1],[951,-2],[938,0],[926,-2],[917,-4.1],[910,-0.7]];

var e3_pfna_n8 = [[1790,-0.5],[1769,0],[1753,1.9],[1741,4.7],[1733,1.9],[1725,0],[1716,0.9],[1707,-4.7],[1697,-7.4],[1691,-11.2],[1683,-2.8],[1672,0],[1658,-6.5],[1647,-12.1],[1641,-16.3],[1633,-6.5],[1623,-1.9],[1613,2.8],[1602,5.1],[1592,1.9],[1581,0],[1570,-1.9],[1560,-2.8],[1549,-5.6],[1539,-0.9],[1530,1.9],[1518,7.4],[1504,23.3],[1496,14],[1488,7.4],[1474,6.5],[1463,2.8],[1449,-2.8],[1438,0.9],[1424,0.9],[1410,4.7],[1393,7.4],[1379,4.7],[1365,3.7],[1351,4.7],[1337,0],[1326,3.7],[1309,-1.9],[1295,-4.7],[1281,-4.7],[1267,-2.8],[1254,-3.7],[1233,-5.6],[1212,-6.5],[1195,-9.3],[1177,-6.5],[1156,-4.7],[1139,-5.6],[1121,-7.4],[1100,-6.5],[1079,-4.2],[1058,-2.3],[1044,0],[1024,0.9],[1003,2.8],[989,0.9],[975,-1.4],[958,-2.8],[940,-1.4],[919,-0.9],[898,-1.4],[881,-0.5]];
var e3_pfna_n5 = [[1790,-0.5],[1776,0],[1762,0.5],[1753,2.8],[1744,8.4],[1737,9.8],[1730,5.6],[1723,9.8],[1716,8.4],[1709,1.9],[1702,-1.9],[1697,-6.5],[1691,-12.1],[1683,-2.8],[1675,-0.9],[1665,0],[1655,-5.6],[1644,-9.3],[1637,-12.1],[1630,-4.7],[1623,-3.7],[1613,0],[1602,-0.9],[1591,-2.8],[1580,-5.6],[1567,-2.8],[1557,-7.4],[1549,-11.6],[1542,-7.4],[1535,5.6],[1528,4.7],[1521,9.3],[1511,10.7],[1504,23.7],[1495,14],[1488,3.7],[1477,2.8],[1465,-0.9],[1456,-1.9],[1446,3.7],[1438,1.9],[1428,4.7],[1418,3.7],[1407,7.4],[1396,9.3],[1386,11.6],[1372,10.7],[1358,10.2],[1347,7.4],[1337,0.9],[1327,6.5],[1316,0.9],[1307,1.9],[1295,-1.4],[1281,-0.9],[1267,0.9],[1254,0],[1240,-2.8],[1226,-4.7],[1209,-8.4],[1195,-9.8],[1184,-6.5],[1167,-3.7],[1156,-2.3],[1139,-6.5],[1121,-8.4],[1103,-8.4],[1086,-5.6],[1070,-2.8],[1051,-1.9],[1033,-2.3],[1017,-5.6],[1003,-4.7],[989,-4.2],[972,-5.1],[958,-3.7],[944,-1.9],[926,-1.4],[908,-2.3],[891,-1.9],[881,0.5]];

var spectra = [
  [{n7: e1_pfbs_n7, n6: e1_pfbs_n6, n8: e1_pfbs_n8, n5: e1_pfbs_n5, n9: e1_pfbs_n9},
   {n7: e1_pfoa_n7, n6: e1_pfoa_n6, n8: e1_pfoa_n8, n5: e1_pfoa_n5, n9: e1_pfoa_n9},
   {n7: e1_pfos_n7, n6: e1_pfos_n6, n8: e1_pfos_n8, n5: e1_pfos_n5, n9: e1_pfos_n9},
   {n7: e1_pfna_n7, n6: e1_pfna_n6, n8: e1_pfna_n8, n5: e1_pfna_n5, n9: e1_pfna_n9}],
  [{n8: e2_pfbs_n8, n5: e2_pfbs_n5, n9: e2_pfbs_n9},
   {n5: e2_pfoa_n5, n8: e2_pfoa_n8, n9: e2_pfoa_n9},
   {n9: e2_pfos_n9, n8: e2_pfos_n8, n5: e2_pfos_n5},
   {n9: e2_pfna_n9, n8: e2_pfna_n8, n5: e2_pfna_n5}],
  [{n8: e3_pfbs_n8, n5: e3_pfbs_n5},
   {n5: e3_pfoa_n5, n8: e3_pfoa_n8},
   {n8: e3_pfos_n8, n5: e3_pfos_n5},
   {n8: e3_pfna_n8, n5: e3_pfna_n5}]
];

// ---- styles & layout ----
var colors = {n9: "#1c6fb4", n8: "#1fb35a", n7: "#bb70cb", n6: "#f89c38", n5: "#ee1e96"};
var thickConc = [["n9", "n9", "n9", "n9"], ["n9", "n9", "n5", "n5"], ["n5", "n8", "n5", "n5"]];
var bandFill = ["#e2e2e2", "#c9c9c9", "#bdbdbd"];
var colBox = [[88, 354], [384, 650], [680, 946], [976, 1243]];
var rowBox = [[53, 263], [294, 504], [534, 765]];
var plotX = [119, 410, 706, 1005];
var plotW = [219, 220, 221, 222];
var plotY = [79, 322, 563];
var plotH = [149, 150, 152];

var svg = d3.select("#chart");

// column boxes (behind)
colBox.forEach(function(b, c) {
  svg.append("rect").attr("x", b[0]).attr("y", 12).attr("width", b[1] - b[0]).attr("height", 810)
    .attr("fill", "#fbfbfb").attr("stroke", "#6a6a6a").attr("stroke-width", 1.6);
  svg.append("text").attr("x", (b[0] + b[1]) / 2).attr("y", 40).attr("text-anchor", "middle")
    .style("font-size", "22px").text(compounds[c]);
});

// row panels
rowBox.forEach(function(b, r) {
  svg.append("rect").attr("x", 10).attr("y", b[0]).attr("width", 1330).attr("height", b[1] - b[0])
    .attr("fill", "#f8f8f8").attr("stroke", "#8a8a8a").attr("stroke-width", 1.6);
  svg.append("text").attr("x", 14).attr("y", b[0] + 29).style("font-size", "20px").text(expNames[r]);
  svg.append("text").attr("x", 14).attr("y", b[0] + 53).style("font-size", "18px").text(expDays[r]);
});

function fmt(dec) {
  return function(v) { return v === 0 ? "0" : v.toFixed(dec); };
}

for (var r = 0; r < 3; r++) {
  for (var c = 0; c < 4; c++) {
    drawPanel(r, c);
  }
  drawLegend(r);
}

function drawPanel(r, c) {
  var w = plotW[c], h = plotH[r];
  var x = d3.scaleLinear().domain(xRanges[c]).range([0, w]);
  var y = d3.scaleLinear().domain(yRanges[r][c]).range([h, 0]);
  var g = svg.append("g").attr("transform", "translate(" + plotX[c] + "," + plotY[r] + ")");
  var clipId = "clip-" + r + "-" + c;
  g.append("clipPath").attr("id", clipId).append("rect").attr("width", w).attr("height", h);

  g.append("rect").attr("width", w).attr("height", h).attr("fill", "#fff");
  var inner = g.append("g").attr("clip-path", "url(#" + clipId + ")");

  inner.selectAll("rect.band").data(bands[r][c]).enter().append("rect")
    .attr("class", "band")
    .attr("x", function(d) { return x(d[0]); })
    .attr("width", function(d) { return x(d[1]) - x(d[0]); })
    .attr("y", 0).attr("height", h)
    .attr("fill", bandFill[r]);

  inner.append("line").attr("x1", 0).attr("x2", w).attr("y1", y(0)).attr("y2", y(0))
    .attr("stroke", "#555").attr("stroke-width", 1.5);

  var line = d3.line()
    .x(function(d) { return x(d[0]); })
    .y(function(d) { return y(d[1]); })
    .curve(d3.curveMonotoneX);

  var set = spectra[r][c];
  var keys = Object.keys(set).filter(function(k) { return k !== thickConc[r][c]; });
  keys.push(thickConc[r][c]);
  keys.forEach(function(k) {
    var isThick = k === thickConc[r][c];
    var pts = set[k].slice().sort(function(a, b) { return b[0] - a[0]; });
    inner.append("path").datum(pts).attr("d", line)
      .attr("fill", "none").attr("stroke", colors[k])
      .attr("stroke-width", isThick ? 2.5 : 1.1)
      .attr("stroke-opacity", isThick ? 1 : 0.85)
      .attr("stroke-linejoin", "round");
  });

  // axes with inward ticks
  g.append("g").attr("transform", "translate(0," + h + ")")
    .call(d3.axisBottom(x).tickValues(xTicks).tickSizeInner(-4).tickSizeOuter(0).tickPadding(9).tickFormat(d3.format("d")));
  g.append("g").call(d3.axisTop(x).tickValues(xMinor).tickSizeInner(-4).tickSizeOuter(0).tickFormat(""));
  g.append("g")
    .call(d3.axisLeft(y).tickValues(yTicks[r][c]).tickSizeInner(-4).tickSizeOuter(0).tickPadding(8).tickFormat(fmt(tickDecimals[r][c])));
  g.append("g").attr("transform", "translate(" + w + ",0)")
    .call(d3.axisRight(y).tickValues(yTicks[r][c]).tickSizeInner(-4).tickSizeOuter(0).tickFormat(""));
  g.selectAll(".domain").remove();
  g.selectAll(".tick line").attr("stroke", "#222");
  g.selectAll(".tick text").style("font-size", "10.5px").style("font-family", "'Liberation Serif', serif")
    .style("font-weight", "bold").attr("fill", "#111");

  g.append("rect").attr("width", w).attr("height", h).attr("fill", "none")
    .attr("stroke", "#222").attr("stroke-width", 1.4);

  var sc = g.append("text").attr("x", -4).attr("y", -6).style("font-size", "10px");
  sc.append("tspan").text("x 10");
  sc.append("tspan").attr("dy", -4).style("font-size", "8px").text("-3");

  if (c === 0) {
    g.append("text").attr("transform", "translate(-34," + (h / 2) + ") rotate(-90)")
      .attr("text-anchor", "middle").style("font-size", "15px").text("Absorbance (a.u.)");
  }
  if (r === 2) {
    var xl = g.append("text").attr("x", w / 2).attr("y", h + 41).attr("text-anchor", "middle")
      .style("font-size", "18px");
    xl.append("tspan").text("Wavenumber (cm");
    xl.append("tspan").attr("dy", -6).style("font-size", "12px").text("-1");
    xl.append("tspan").attr("dy", 6).text(")");
  }
}

function drawLegend(r) {
  var boxes = [[79, 184], [321, 390], [563, 615]];
  var firstY = [102, 338, 580];
  var step = [17.5, 18, 18];
  var concs = legendConcs[r];
  svg.append("rect").attr("x", 1255).attr("y", boxes[r][0]).attr("width", 66).attr("height", boxes[r][1] - boxes[r][0])
    .attr("fill", "#fff").attr("stroke", "#222").attr("stroke-width", 1.4);
  concs.forEach(function(k, i) {
    var yy = firstY[r] + i * step[r];
    svg.append("line").attr("x1", 1258).attr("x2", 1273).attr("y1", yy).attr("y2", yy)
      .attr("stroke", colors[k]).attr("stroke-width", 3);
    svg.append("text").attr("x", 1275).attr("y", yy + 5).style("font-size", "14px").text("10");
    svg.append("text").attr("x", 1291).attr("y", yy - 4).style("font-size", "10px").text(concExp[k]);
    svg.append("text").attr("x", 1303).attr("y", yy + 4).style("font-size", "14px").text("M");
  });

  var by = [244, 475, 748];
  svg.append("rect").attr("x", 1244).attr("y", by[r]).attr("width", 17).attr("height", 8).attr("fill", bandFill[r]);
  var names = bandNames[r];
  if (names.length === 1) {
    svg.append("text").attr("x", 1268).attr("y", by[r] + 9).style("font-size", r === 0 ? "12px" : "11px").text(names[0]);
  } else {
    names.forEach(function(n, i) {
      svg.append("text").attr("x", 1300).attr("y", 469 + i * 15).attr("text-anchor", "middle")
        .style("font-size", "11.5px").text(n);
    });
  }
}
</script>
</body>
</html>
